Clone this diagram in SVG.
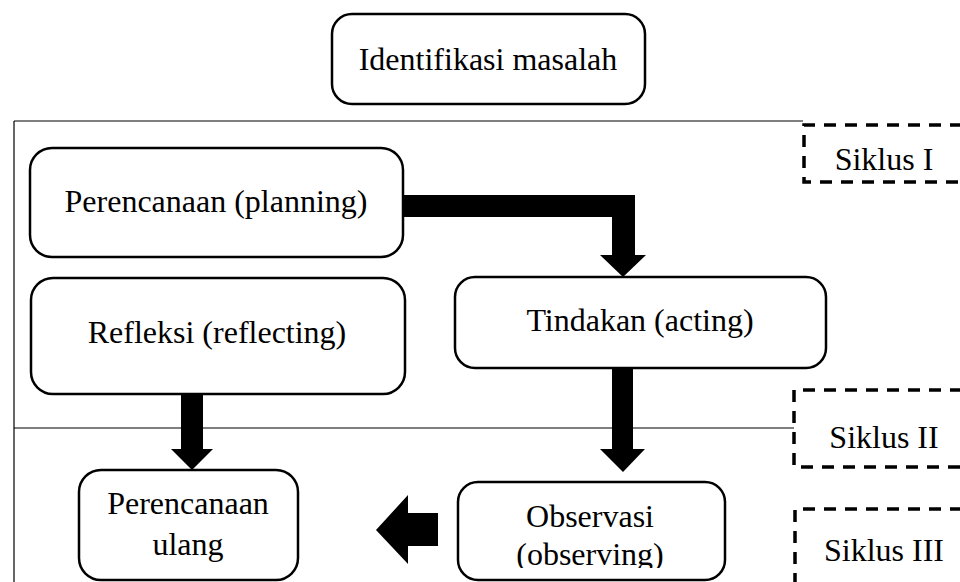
<svg xmlns="http://www.w3.org/2000/svg" width="960" height="582" viewBox="0 0 960 582">
<style>
.box{fill:#fff;stroke:#000;stroke-width:2.5}
.dash{fill:none;stroke:#000;stroke-width:3.5;stroke-dasharray:12 9}
.t{font-family:"Liberation Serif","Times New Roman",serif;font-size:32px;fill:#000;text-anchor:middle}
.thin{stroke:#000;stroke-width:1.2;fill:none}
.arr{fill:#000;stroke:none}
</style>
<defs>
<clipPath id="cut"><rect x="0" y="0" width="960" height="568"/></clipPath>
</defs>
<rect width="960" height="582" fill="#fff"/>
<g id="frame">
<line class="thin" x1="14" y1="121" x2="803" y2="121"/>
<line class="thin" x1="14" y1="121" x2="14" y2="582"/>
<line class="thin" x1="14" y1="428" x2="794" y2="428"/>
</g>
<g id="siklus1">
<path class="dash" d="M962,125 H804 V182 H962"/>
<text class="t" x="884" y="170">Siklus I</text>
</g>
<g id="siklus2">
<path class="dash" d="M962,390 H794 V467 H962"/>
<text class="t" x="884" y="448">Siklus II</text>
</g>
<g id="siklus3">
<path class="dash" d="M962,509 H795 V590"/>
<text class="t" x="884" y="561">Siklus III</text>
</g>
<g id="identifikasi">
<rect class="box" x="332" y="14" width="313" height="90" rx="20"/>
<text class="t" x="488" y="70">Identifikasi masalah</text>
</g>
<g id="perencanaan">
<rect class="box" x="30" y="148" width="373" height="109" rx="22"/>
<text class="t" x="216" y="212">Perencanaan (planning)</text>
</g>
<g id="refleksi">
<rect class="box" x="31" y="278" width="374" height="116" rx="22"/>
<text class="t" x="217" y="343">Refleksi (reflecting)</text>
</g>
<g id="tindakan">
<rect class="box" x="455" y="277" width="371" height="91" rx="20"/>
<text class="t" x="640" y="331">Tindakan (acting)</text>
</g>
<g id="perencanaan-ulang">
<rect class="box" x="79" y="470" width="219" height="110" rx="22"/>
<text class="t" x="188" y="514">Perencanaan</text>
<text class="t" x="188" y="555">ulang</text>
</g>
<g id="observasi">
<rect class="box" x="458" y="482" width="267" height="98" rx="20"/>
<text class="t" x="590" y="527">Observasi</text>
<text class="t" x="590" y="565" clip-path="url(#cut)">(observing)</text>
</g>
<g id="connectors">
<path class="arr" d="M403,195 H635 V255 H646 L623,277 L600,255 H612 V217 H403 Z"/>
<path class="arr" d="M612,368 H633 V449 H645 L623,472 L600,449 H612 Z"/>
<path class="arr" d="M181,394 H203 V449 H213 L192,470 L171,449 H181 Z"/>
<path class="arr" d="M438,513 V546 H408 V564 L376,530 L408,495 V513 Z"/>
</g>
</svg>
